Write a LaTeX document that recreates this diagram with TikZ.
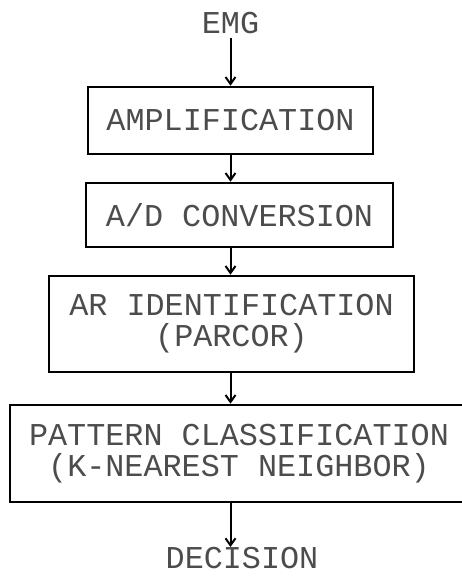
\documentclass[tikz,border=0pt]{standalone}
\usepackage{fontspec}
\newfontfamily\dotfont{Liberation Mono}
\usetikzlibrary{arrows.meta,positioning}

\begin{document}
\begin{tikzpicture}[x=1pt,y=-1pt,
    block/.style={draw,line width=2.6pt,inner sep=0pt,align=center,
        font=\dotfont\fontsize{31.8}{31}\selectfont,text=black!70},
    lbl/.style={inner sep=0pt,font=\dotfont\fontsize{31.8}{31}\selectfont,text=black!70},
    arr/.style={line width=2pt,-{Straight Barb[length=7pt,width=10pt]}}]
    % size of the scanned page
    \clip (0,0) rectangle (462,577);

    \node[lbl] (emg) at (230.5,23) {EMG};
    \node[block,minimum width=285,minimum height=67] (amp) at (230.5,120.5) {AMPLIFICATION};
    \node[block,minimum width=307,minimum height=64] (adc) at (239.5,215) {A/D CONVERSION};
    \node[block,minimum width=365,minimum height=96] (ar) at (231.5,324) {AR IDENTIFICATION\\(PARCOR)};
    \node[block,minimum width=458,minimum height=97] (pat) at (239,453.5) {PATTERN CLASSIFICATION\\(K-NEAREST NEIGHBOR)};
    \node[lbl] (dec) at (242,558) {DECISION};

    % signal path, all arrows on one vertical
    \draw[arr,shorten <=4pt] (emg) -- (emg |- amp.north);
    \draw[arr] (emg |- amp.south) -- (emg |- adc.north);
    \draw[arr] (emg |- adc.south) -- (emg |- ar.north);
    \draw[arr] (emg |- ar.south) -- (emg |- pat.north);
    \draw[arr] (emg |- pat.south) -- (emg |- dec.north);
\end{tikzpicture}
\end{document}
